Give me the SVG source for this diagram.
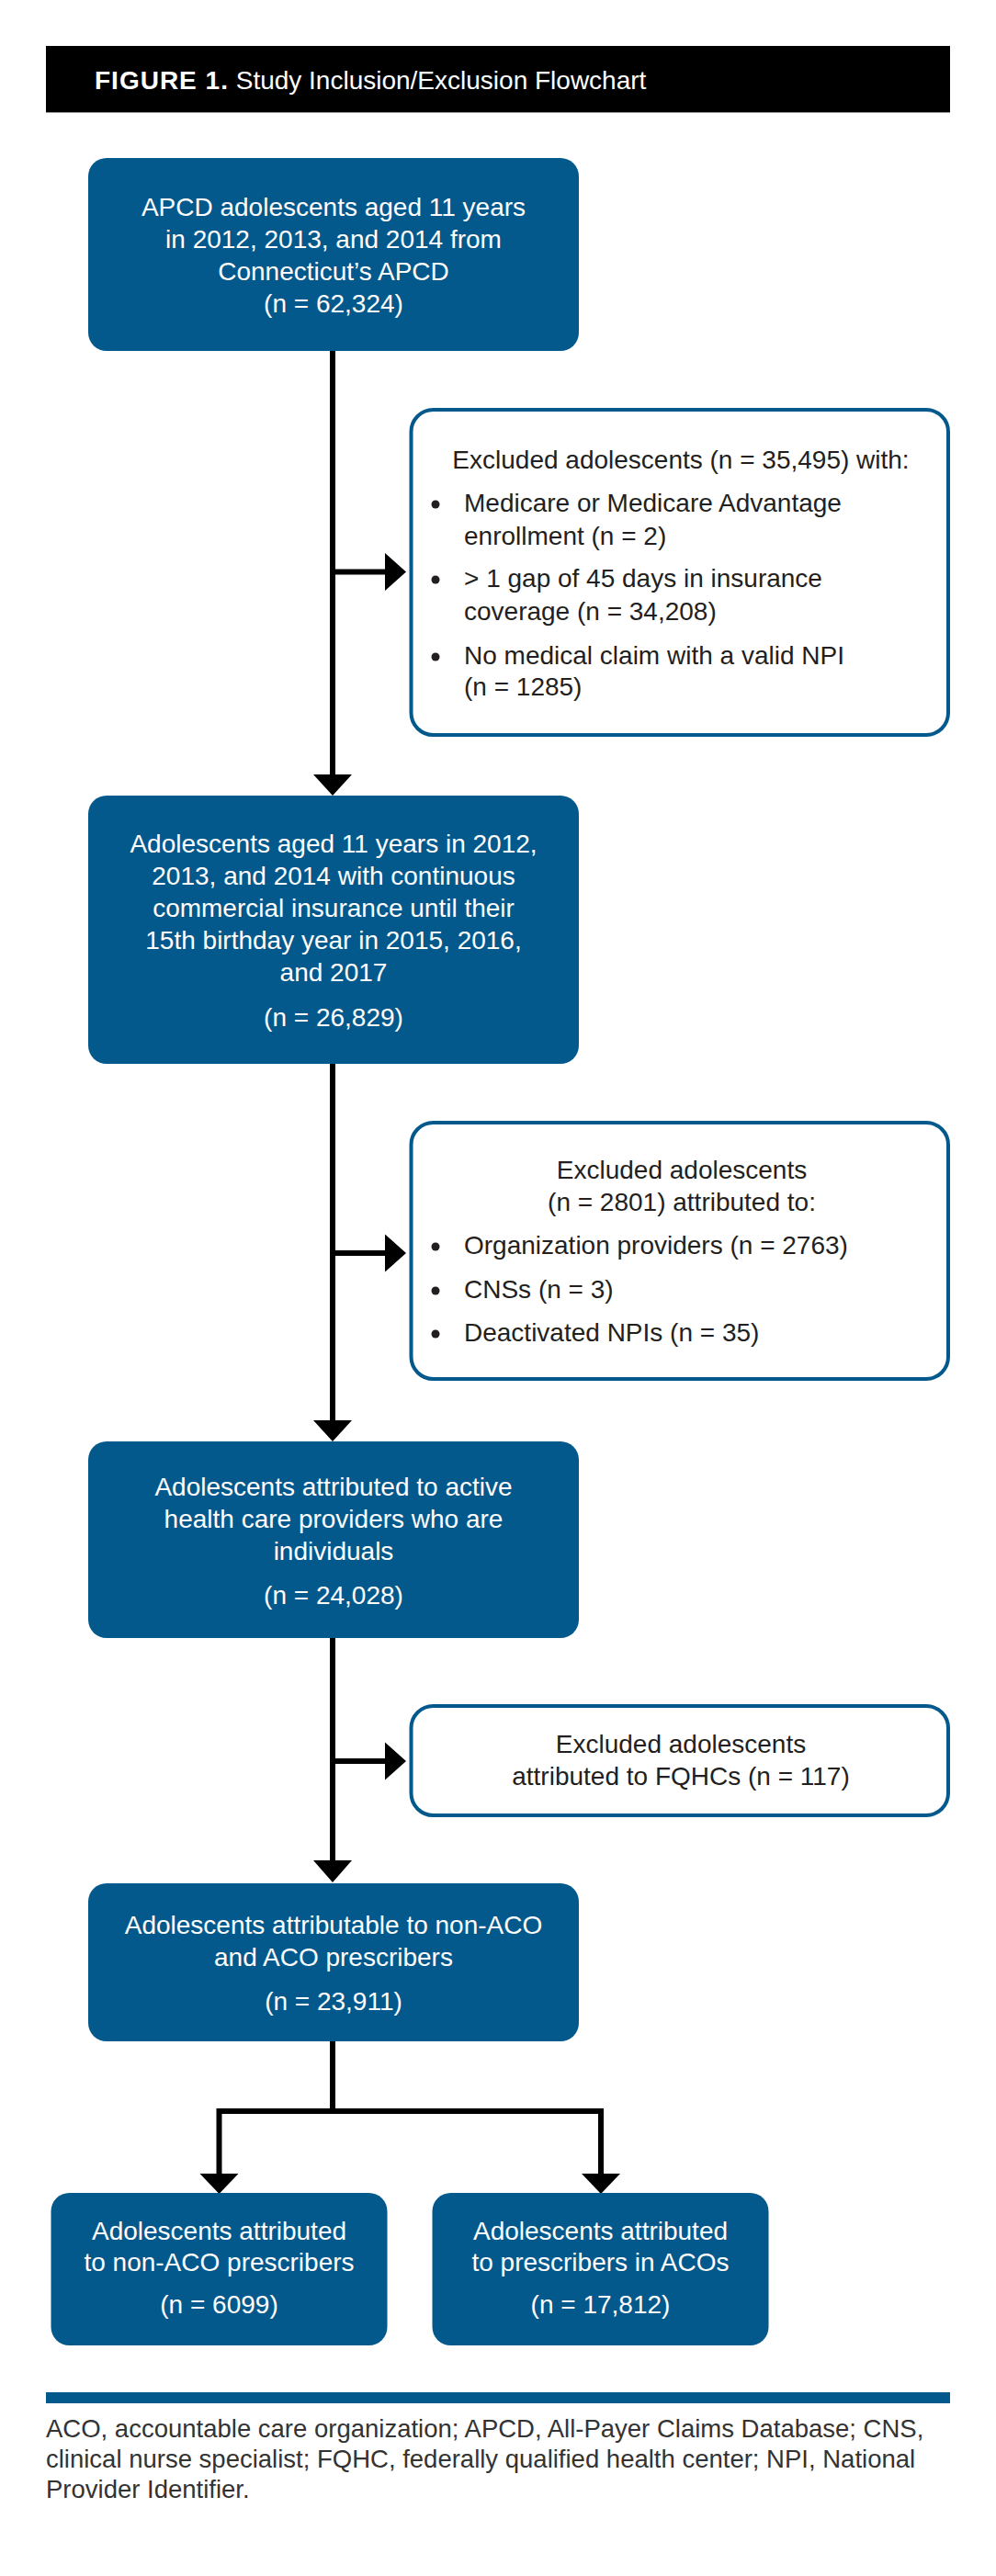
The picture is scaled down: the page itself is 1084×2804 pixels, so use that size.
<svg xmlns="http://www.w3.org/2000/svg" width="1084" height="2804" viewBox="0 0 1084 2804">
<defs>
<style>
text{font-family:"Liberation Sans",Arial,sans-serif;}
.solid{fill:#04598c;}
.outline{fill:#fff;stroke:#04598c;stroke-width:4;}
.wt{fill:#fff;font-size:28px;text-anchor:middle;}
.bt{fill:#231f20;font-size:28px;}
.btc{fill:#231f20;font-size:28px;text-anchor:middle;}
.wire{fill:none;stroke:#000;stroke-width:6;}
.head{fill:#000;}
.dot{fill:#231f20;}
.foot{fill:#333;font-size:27.5px;}
</style>
</defs>
<rect width="1084" height="2804" fill="#fff"/>
<g id="header">
<rect x="50" y="50" width="984" height="72" fill="#000"/>
<line x1="50" y1="122.5" x2="1034" y2="122.5" stroke="#9a9a9a" stroke-width="1"/>
<text x="103" y="97" fill="#fff" font-size="28"><tspan font-weight="bold" letter-spacing="1">FIGURE 1.</tspan> Study Inclusion/Exclusion Flowchart</text>
</g>
<g id="connectors">
<path class="wire" d="M362 382 V845"/>
<path class="wire" d="M362 622.5 H421"/>
<polygon class="head" points="419,602 442,622.5 419,643"/>
<polygon class="head" points="341,843 383,843 362,866"/>
<path class="wire" d="M362 1158 V1548"/>
<path class="wire" d="M362 1364 H421"/>
<polygon class="head" points="419,1343.5 442,1364 419,1384.5"/>
<polygon class="head" points="341,1546 383,1546 362,1569"/>
<path class="wire" d="M362 1783 V2025"/>
<path class="wire" d="M362 1917 H421"/>
<polygon class="head" points="419,1896.5 442,1917 419,1937.5"/>
<polygon class="head" points="341,2025 383,2025 362,2049"/>
<path class="wire" d="M362 2222 V2298 M238.5 2368 V2298 H654 V2368"/>
<polygon class="head" points="217.5,2366 259.5,2366 238.5,2388"/>
<polygon class="head" points="633,2366 675,2366 654,2388"/>
</g>
<g id="node1">
<rect class="solid" x="96" y="172" width="534" height="210" rx="20"/>
<text class="wt" x="363" y="235">APCD adolescents aged 11 years</text>
<text class="wt" x="363" y="270">in 2012, 2013, and 2014 from</text>
<text class="wt" x="363" y="305">Connecticut’s APCD</text>
<text class="wt" x="363" y="340">(n = 62,324)</text>
</g>
<g id="node2">
<rect class="outline" x="447.5" y="446" width="584.5" height="354" rx="24"/>
<text class="btc" x="741" y="510">Excluded adolescents (n = 35,495) with:</text>
<circle class="dot" cx="474" cy="549" r="4.5"/>
<text class="bt" x="505" y="557">Medicare or Medicare Advantage</text>
<text class="bt" x="505" y="593">enrollment (n = 2)</text>
<circle class="dot" cx="474" cy="631" r="4.5"/>
<text class="bt" x="505" y="639">&gt; 1 gap of 45 days in insurance</text>
<text class="bt" x="505" y="675">coverage (n = 34,208)</text>
<circle class="dot" cx="474" cy="715" r="4.5"/>
<text class="bt" x="505" y="723">No medical claim with a valid NPI</text>
<text class="bt" x="505" y="757">(n = 1285)</text>
</g>
<g id="node3">
<rect class="solid" x="96" y="866" width="534" height="292" rx="20"/>
<text class="wt" x="363" y="928">Adolescents aged 11 years in 2012,</text>
<text class="wt" x="363" y="963">2013, and 2014 with continuous</text>
<text class="wt" x="363" y="998">commercial insurance until their</text>
<text class="wt" x="363" y="1033">15th birthday year in 2015, 2016,</text>
<text class="wt" x="363" y="1068">and 2017</text>
<text class="wt" x="363" y="1117">(n = 26,829)</text>
</g>
<g id="node4">
<rect class="outline" x="447.5" y="1222" width="584.5" height="279" rx="24"/>
<text class="btc" x="742" y="1283">Excluded adolescents</text>
<text class="btc" x="742" y="1318">(n = 2801) attributed to:</text>
<circle class="dot" cx="474" cy="1357" r="4.5"/>
<text class="bt" x="505" y="1365">Organization providers (n = 2763)</text>
<circle class="dot" cx="474" cy="1405" r="4.5"/>
<text class="bt" x="505" y="1413">CNSs (n = 3)</text>
<circle class="dot" cx="474" cy="1452" r="4.5"/>
<text class="bt" x="505" y="1460">Deactivated NPIs (n = 35)</text>
</g>
<g id="node5">
<rect class="solid" x="96" y="1569" width="534" height="214" rx="20"/>
<text class="wt" x="363" y="1628">Adolescents attributed to active</text>
<text class="wt" x="363" y="1663">health care providers who are</text>
<text class="wt" x="363" y="1698">individuals</text>
<text class="wt" x="363" y="1746">(n = 24,028)</text>
</g>
<g id="node6">
<rect class="outline" x="447.5" y="1857" width="584.5" height="119" rx="24"/>
<text class="btc" x="741" y="1908">Excluded adolescents</text>
<text class="btc" x="741" y="1943">attributed to FQHCs (n = 117)</text>
</g>
<g id="node7">
<rect class="solid" x="96" y="2050" width="534" height="172" rx="20"/>
<text class="wt" x="363" y="2105">Adolescents attributable to non-ACO</text>
<text class="wt" x="363" y="2140">and ACO prescribers</text>
<text class="wt" x="363" y="2188">(n = 23,911)</text>
</g>
<g id="node8">
<rect class="solid" x="55.5" y="2387" width="366" height="166" rx="20"/>
<text class="wt" x="238.5" y="2438">Adolescents attributed</text>
<text class="wt" x="238.5" y="2472">to non-ACO prescribers</text>
<text class="wt" x="238.5" y="2518">(n = 6099)</text>
</g>
<g id="node9">
<rect class="solid" x="470.5" y="2387" width="366" height="166" rx="20"/>
<text class="wt" x="653.5" y="2438">Adolescents attributed</text>
<text class="wt" x="653.5" y="2472">to prescribers in ACOs</text>
<text class="wt" x="653.5" y="2518">(n = 17,812)</text>
</g>
<g id="footer">
<rect x="50" y="2604" width="984" height="12" fill="#04598c"/>
<text class="foot" x="50" y="2653">ACO, accountable care organization; APCD, All-Payer Claims Database; CNS,</text>
<text class="foot" x="50" y="2686">clinical nurse specialist; FQHC, federally qualified health center; NPI, National</text>
<text class="foot" x="50" y="2719">Provider Identifier.</text>
</g>
</svg>
